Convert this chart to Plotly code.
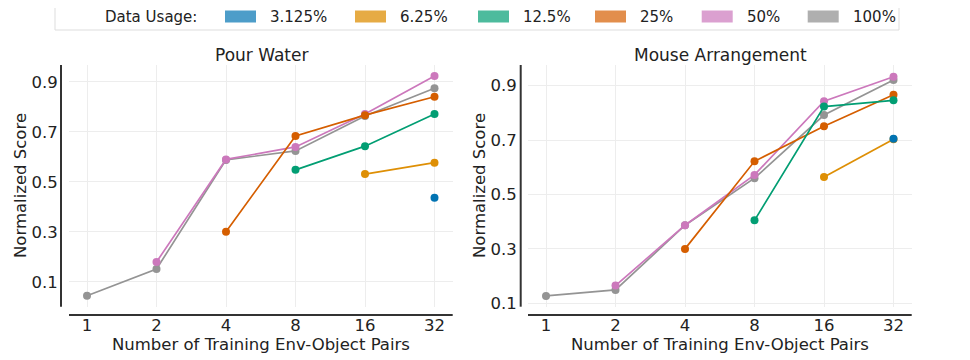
import plotly.graph_objects as go

W, H = 970, 360
OFF = 8  # page body margin in the browser

x_vals = [1, 2, 4, 8, 16, 32]
x_ticklabels = ["1", "2", "4", "8", "16", "32"]
y_ticks = [0.1, 0.3, 0.5, 0.7, 0.9]
y_ticklabels = ["0.1", "0.3", "0.5", "0.7", "0.9"]

usage_labels = ["3.125%", "6.25%", "12.5%", "25%", "50%", "100%"]
colors = ["#0173b2", "#de8f05", "#029e73", "#d55e00", "#cc78bc", "#949494"]
patch_colors = ["rgba(1,115,178,0.7)", "rgba(222,143,5,0.75)", "rgba(2,158,115,0.7)",
                "rgba(213,94,0,0.7)", "rgba(204,120,188,0.7)", "rgba(148,148,148,0.75)"]

# Pour Water (None = not evaluated)
pour_3125 = [None, None, None, None, None, 0.436]
pour_625 = [None, None, None, None, 0.531, 0.577]
pour_125 = [None, None, None, 0.548, 0.643, 0.772]
pour_25 = [None, None, 0.300, 0.684, 0.767, 0.841]
pour_50 = [None, 0.179, 0.590, 0.640, 0.772, 0.924]
pour_100 = [0.044, 0.151, 0.588, 0.624, 0.764, 0.875]

# Mouse Arrangement
mouse_3125 = [None, None, None, None, None, 0.705]
mouse_625 = [None, None, None, None, 0.564, 0.703]
mouse_125 = [None, None, None, 0.405, 0.823, 0.846]
mouse_25 = [None, None, 0.300, 0.622, 0.751, 0.867]
mouse_50 = [None, 0.165, 0.387, 0.572, 0.843, 0.933]
mouse_100 = [0.127, 0.149, 0.387, 0.560, 0.792, 0.921]

pour = [pour_3125, pour_625, pour_125, pour_25, pour_50, pour_100]
mouse = [mouse_3125, mouse_625, mouse_125, mouse_25, mouse_50, mouse_100]

FONT = "DejaVu Sans"
fig = go.Figure()

for series, xa, ya in [(pour, "x", "y"), (mouse, "x2", "y2")]:
    for i in reversed(range(len(series))):
        fig.add_trace(go.Scatter(
            x=x_vals, y=series[i], mode="lines+markers", xaxis=xa, yaxis=ya,
            line=dict(color=colors[i], width=1.7),
            marker=dict(color=colors[i], size=8),
            connectgaps=False, showlegend=False, hoverinfo="skip"))

def px(v):
    return (v - OFF) / W

def py(v):
    return 1 - (v - OFF) / H

axis_common = dict(type="log", tickvals=x_vals, ticktext=x_ticklabels,
                   range=[-0.078, 1.584], showgrid=True, gridcolor="#ededed", gridwidth=1,
                   zeroline=False, showline=False, ticks="outside", ticklen=3,
                   tickcolor="rgba(0,0,0,0)", tickfont=dict(family=FONT, size=16.5, color="#222"),
                   automargin=False)
yaxis_common = dict(tickvals=y_ticks, ticktext=y_ticklabels, showgrid=True, gridcolor="#ededed",
                    gridwidth=1, zeroline=False, showline=False, ticks="outside", ticklen=7,
                    tickcolor="rgba(0,0,0,0)", tickfont=dict(family=FONT, size=16.5, color="#222"),
                    automargin=False)

ydom = [py(306.7), py(65)]
fig.update_layout(
    width=W, height=H, template="none",
    margin=dict(l=0, r=0, t=0, b=0, autoexpand=False),
    paper_bgcolor="white", plot_bgcolor="white",
    xaxis=dict(domain=[px(69), px(452.7)], anchor="y", **axis_common),
    yaxis=dict(domain=ydom, anchor="x", range=[0.0, 0.968], **yaxis_common),
    xaxis2=dict(domain=[px(528), px(911.7)], anchor="y2", **axis_common),
    yaxis2=dict(domain=ydom, anchor="x2", range=[0.0875, 0.976], **yaxis_common),
)

shapes = []
ann = []
spine = dict(color="#333333", width=2)
# spines (offset, seaborn-despine style)
for ysx, x0, x1, cx, ylx in [(61, 69, 452.7, 261, 20), (520.7, 528, 911.7, 720, 479)]:
    shapes.append(dict(type="line", xref="paper", yref="paper", x0=px(ysx), x1=px(ysx),
                       y0=py(306.7), y1=py(65), line=spine))
    shapes.append(dict(type="line", xref="paper", yref="paper", x0=px(x0), x1=px(x1),
                       y0=py(315), y1=py(315), line=spine))
    ann.append(dict(text="Number of Training Env-Object Pairs", xref="paper", yref="paper",
                    x=px(cx), y=py(344), showarrow=False, xanchor="center", yanchor="middle",
                    font=dict(family=FONT, size=16.5, color="#222")))
    ann.append(dict(text="Normalized Score", xref="paper", yref="paper", textangle=-90,
                    x=px(ylx), y=py(186), showarrow=False, xanchor="center", yanchor="middle",
                    font=dict(family=FONT, size=16.5, color="#222")))

titles = ["Pour Water", "Mouse Arrangement"]
for t, cx in zip(titles, [261, 720]):
    ann.append(dict(text=t, xref="paper", yref="paper", x=px(cx), y=py(55), showarrow=False,
                    xanchor="center", yanchor="middle", font=dict(family=FONT, size=17, color="#222")))

# legend box
shapes.append(dict(type="rect", xref="paper", yref="paper", x0=px(55), x1=px(899),
                   y0=py(30), y1=py(4.7), line=dict(color="#dddddd", width=1), fillcolor="white"))
ann.append(dict(text="Data Usage:", xref="paper", yref="paper", x=px(103), y=py(17),
                showarrow=False, xanchor="left", yanchor="middle",
                font=dict(family=FONT, size=15, color="#222")))
patch_x = [225, 355, 478, 595, 701.7, 807.7]
for i, lab in enumerate(usage_labels):
    x0 = patch_x[i]
    shapes.append(dict(type="rect", xref="paper", yref="paper", x0=px(x0), x1=px(x0 + 31),
                       y0=py(22.5), y1=py(10.5), line=dict(width=0), fillcolor=patch_colors[i]))
    ann.append(dict(text=lab, xref="paper", yref="paper", x=px(x0 + 43), y=py(17),
                    showarrow=False, xanchor="left", yanchor="middle",
                    font=dict(family=FONT, size=15, color="#222")))

fig.update_layout(shapes=shapes, annotations=ann)
fig.write_html("out.html")
